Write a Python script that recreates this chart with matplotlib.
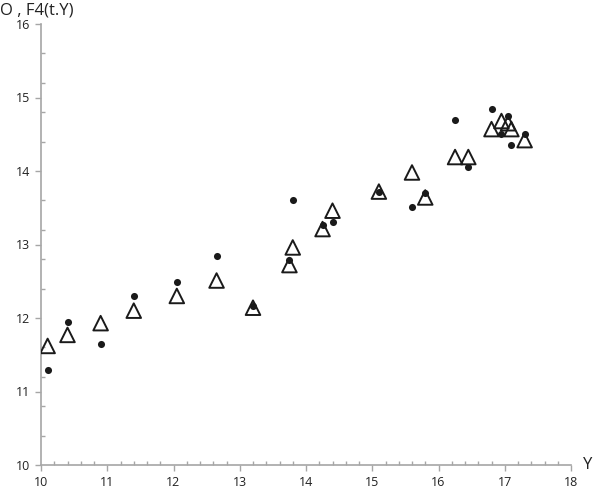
import numpy as np
import matplotlib.pyplot as plt
from matplotlib.ticker import MultipleLocator

plt.rcParams['font.family'] = ['Open Sans', 'DejaVu Sans']

# data
x_vals = [10.1, 10.4, 10.9, 11.4, 12.05, 12.65, 13.2, 13.75, 13.8, 14.25, 14.4,
          15.1, 15.6, 15.8, 16.25, 16.45, 16.8, 16.95, 17.05, 17.1, 17.3]
obs = [11.29, 11.95, 11.65, 12.30, 12.49, 12.85, 12.17, 12.79, 13.60, 13.26, 13.30,
       13.71, 13.51, 13.70, 14.70, 14.05, 14.85, 14.50, 14.75, 14.35, 14.50]
fit = [11.62, 11.77, 11.93, 12.10, 12.30, 12.51, 12.14, 12.72, 12.96, 13.21, 13.46,
       13.72, 13.98, 13.64, 14.19, 14.19, 14.57, 14.68, 14.65, 14.57, 14.42]

fig = plt.figure(figsize=(5.95, 4.88), dpi=100)
ax = fig.add_axes([41/595, 23/488, 530/595, 441/488])

ax.scatter(x_vals, obs, s=26, color='#1a1a1a', zorder=3, linewidths=0)
ax.scatter(x_vals, fit, s=110, marker='^', facecolors='none', edgecolors='#1a1a1a',
           linewidths=1.4, zorder=4)

ax.set_xlim(10, 18)
ax.set_ylim(10, 16)
ax.xaxis.set_major_locator(MultipleLocator(1))
ax.xaxis.set_minor_locator(MultipleLocator(0.2))
ax.yaxis.set_major_locator(MultipleLocator(1))
ax.yaxis.set_minor_locator(MultipleLocator(0.4))

for s in ['top', 'right']:
    ax.spines[s].set_visible(False)
for s in ['left', 'bottom']:
    ax.spines[s].set_color('#a6a6a6')
    ax.spines[s].set_linewidth(1.2)

ax.tick_params(which='major', direction='out', length=4, color='#a6a6a6',
               width=1, labelsize=9, pad=4, labelcolor='#222222')
ax.tick_params(which='minor', direction='in', length=3, color='#a6a6a6', width=1)

fig.text(0.0, 0.978, 'O , F4(t.Y)', fontsize=12, ha='left', va='center', color='#222222')
fig.text(0.995, 23/488, 'Y', fontsize=12, ha='right', va='center', color='#222222')

fig.savefig('out.png', dpi=100)
